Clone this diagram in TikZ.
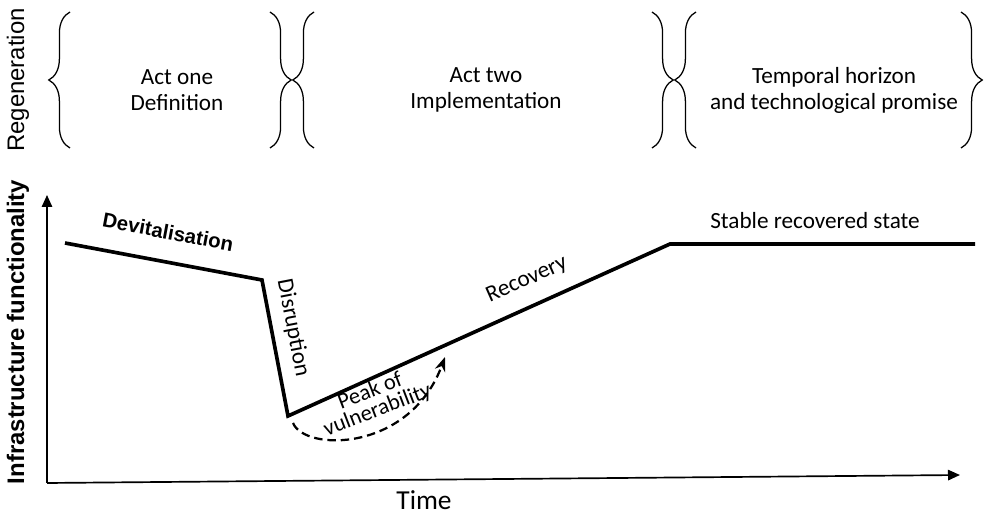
\documentclass[tikz,border=0pt]{standalone}
\usepackage{fontspec}
\setmainfont{Carlito}
\newfontfamily\arialfont{Liberation Sans}
\usetikzlibrary{arrows.meta, decorations.pathreplacing, positioning}

\begin{document}
\begin{tikzpicture}[x={(0.025cm,0)},y={(0,-0.025cm)},>=Stealth,
  lbl/.style={font=\fontsize{16.5}{18.5}\selectfont,align=center,inner sep=1pt},
  axlbl/.style={font=\arialfont\bfseries\fontsize{17}{20}\selectfont,inner sep=0pt},
  curve/.style={line width=2.6pt,line join=miter},
  axis/.style={line width=1.2pt,-{Triangle[length=3mm,width=2.6mm]}},
  brc/.style={decorate,decoration={brace,amplitude=5.3mm},line width=0.9pt}]
  \useasboundingbox (0,0) rectangle (988,517);
  % top row: acts between braces
  \node[font=\arialfont\fontsize{17}{20}\selectfont,rotate=90,inner sep=0pt] (regen) at (18,80) {Regeneration};
  \draw[brc] (70,148) -- (70,12);
  \draw[brc] (270,12) -- (270,148);
  \draw[brc] (314,148) -- (314,12);
  \draw[brc] (652,12) -- (652,148);
  \draw[brc] (696,148) -- (696,12);
  \draw[brc] (961,12) -- (961,148);
  \node[lbl] (act1) at (177,90) {Act one\\Definition};
  \node[lbl] (act2) at (486,90) {Act two\\Implementation};
  \node[lbl] (act3) at (834,90) {Temporal horizon\\and technological promise};
  % axes
  \coordinate (o) at (47,483);
  \coordinate (ytop) at (47,195);
  \coordinate (xend) at (960,475);
  \draw[axis] (o) -- (ytop);
  \draw[axis] (o) -- (xend);
  \node[axlbl,rotate=90] (ylab) at (18,332) {Infrastructure functionality};
  \node[lbl,font=\fontsize{19.5}{22}\selectfont] (time) at (424,500) {Time};
  % functionality curve
  \coordinate (p0) at (65,243);
  \coordinate (p1) at (262,280);
  \coordinate (p2) at (288,416);
  \coordinate (p3) at (670,244);
  \coordinate (p4) at (975,244);
  \draw[curve] (p0) -- (p1) -- (p2) -- (p3) -- (p4);
  \node[axlbl,font=\arialfont\bfseries\fontsize{14.5}{16}\selectfont,rotate=-10.6] (devit) at (168,232) {Devitalisation};
  \node[lbl,rotate=-79] (disr) at (293,328) {Disruption};
  \node[lbl,rotate=24] (recov) at (527,280) {Recovery};
  \node[lbl] (stable) at (815,221) {Stable recovered state};
  \node[lbl,rotate=21,font=\fontsize{16}{14.5}\selectfont] (peak) at (374,401) {Peak of\\vulnerability};
  % peak of vulnerability arrow
  \coordinate (v0) at (293,423);
  \coordinate (v1) at (445,357);
  \draw[line width=1.6pt,dash pattern=on 6pt off 3.5pt,->] (v0) .. controls (305,452) and (410,452) .. (v1);
\end{tikzpicture}
\end{document}
